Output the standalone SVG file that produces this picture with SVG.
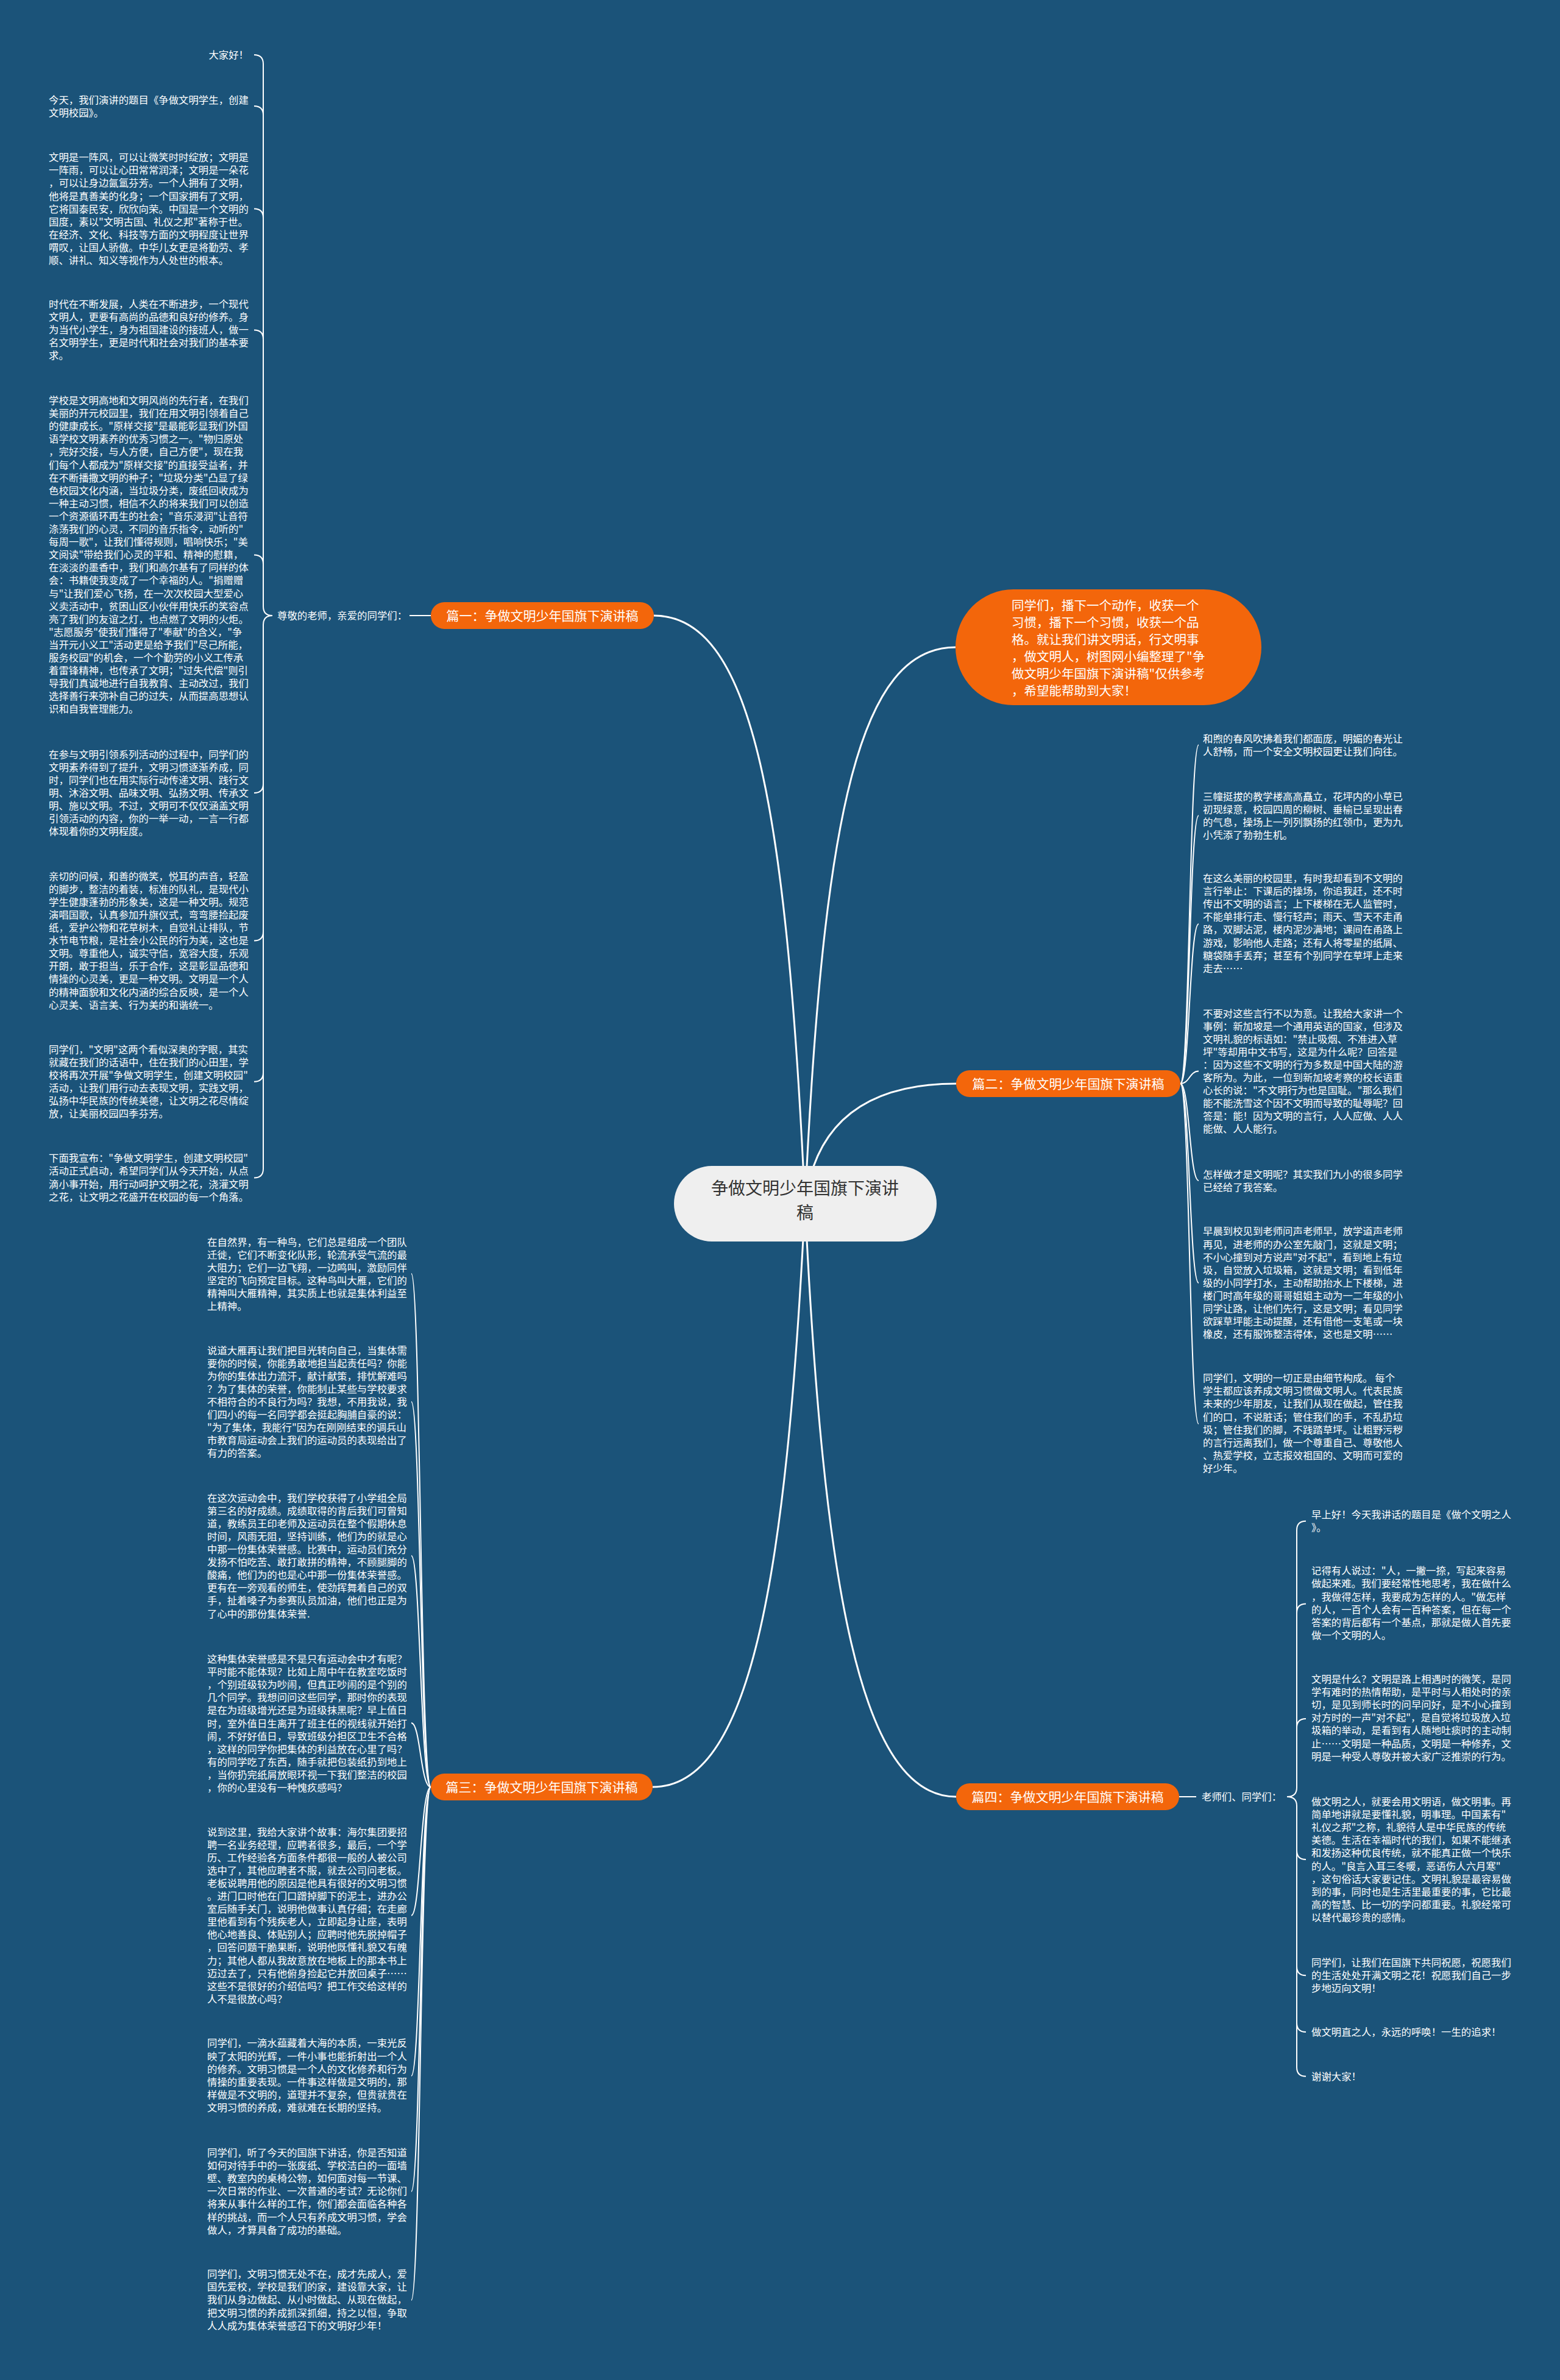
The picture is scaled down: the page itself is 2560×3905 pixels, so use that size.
<svg xmlns="http://www.w3.org/2000/svg" width="2560" height="3905" viewBox="0 0 2560 3905">
<style>
.t{font-family:"Noto Sans CJK SC","Liberation Sans",sans-serif;font-size:16.4px;fill:#ffffff}
.c{fill:none;stroke:#ffffff;stroke-width:2}
.cr{fill:none;stroke:#ffffff;stroke-width:3}
.pill{fill:#f3660b}
.pt{font-family:"Noto Sans CJK SC","Liberation Sans",sans-serif;font-size:21px;fill:#ffffff;text-anchor:middle}
</style>
<rect x="0" y="0" width="2560" height="3905" fill="#1b5379"/>
<g id="connectors">
<path class="cr" d="M1321,1975 C1290,1300 1230,1010 1073,1010"/>
<path class="cr" d="M1321,1975 C1351,1330 1411,1062 1568,1062"/>
<path class="cr" d="M1321,1975 C1340,1820 1450,1778 1569,1778"/>
<path class="cr" d="M1321,1975 C1290,2600 1230,2932 1071,2932"/>
<path class="cr" d="M1321,1975 C1351,2600 1411,2948 1569,2948"/>
<path class="c" d="M707,1010 L672,1010"/>
<path class="c" d="M1935,2948 L1963,2948"/>
<path class="c" d="M447,1010 Q432,1010 432,995 L432,105 Q432,90 417,90"/>
<path class="c" d="M432,189 Q432,174 417,174"/>
<path class="c" d="M432,357.5 Q432,342.5 417,342.5"/>
<path class="c" d="M432,556.5 Q432,541.5 417,541.5"/>
<path class="c" d="M432,925.5 Q432,910.5 417,910.5"/>
<path class="c" d="M447,1010 Q432,1010 432,1025 L432,1917.4 Q432,1932.4 417,1932.4"/>
<path class="c" d="M432,1286 Q432,1301 417,1301"/>
<path class="c" d="M432,1528.4 Q432,1543.4 417,1543.4"/>
<path class="c" d="M432,1759.7 Q432,1774.7 417,1774.7"/>
<path class="c" d="M2112,2948 Q2128,2948 2128,2933 L2128,2510.8 Q2128,2495.8 2143,2495.8"/>
<path class="c" d="M2128,2646.5 Q2128,2631.5 2143,2631.5"/>
<path class="c" d="M2128,2835 Q2128,2820 2143,2820"/>
<path class="c" d="M2112,2948 Q2128,2948 2128,2963 L2128,3391.7 Q2128,3406.7 2143,3406.7"/>
<path class="c" d="M2128,3036 Q2128,3051 2143,3051"/>
<path class="c" d="M2128,3226.3 Q2128,3241.3 2143,3241.3"/>
<path class="c" d="M2128,3319 Q2128,3334 2143,3334"/>
<path class="c" d="M1937,1778 C1952,1778 1952,1222.2 1967,1222.2"/>
<path class="c" d="M1937,1778 C1952,1778 1952,1338.2 1967,1338.2"/>
<path class="c" d="M1937,1778 C1952,1778 1952,1516 1967,1516"/>
<path class="c" d="M1937,1778 C1952,1778 1952,1757.5 1967,1757.5"/>
<path class="c" d="M1937,1778 C1952,1778 1952,1937 1967,1937"/>
<path class="c" d="M1937,1778 C1952,1778 1952,2105 1967,2105"/>
<path class="c" d="M1937,1778 C1952,1778 1952,2336.3 1967,2336.3"/>
<path class="c" d="M707,2932 C690,2932 690,2089.7 675,2089.7"/>
<path class="c" d="M707,2932 C690,2932 690,2300 675,2300"/>
<path class="c" d="M707,2932 C690,2932 690,2552.5 675,2552.5"/>
<path class="c" d="M707,2932 C690,2932 690,2827 675,2827"/>
<path class="c" d="M707,2932 C690,2932 690,3142.7 675,3142.7"/>
<path class="c" d="M707,2932 C690,2932 690,3405.9 675,3405.9"/>
<path class="c" d="M707,2932 C690,2932 690,3595.7 675,3595.7"/>
<path class="c" d="M707,2932 C690,2932 690,3774 675,3774"/>
</g>
<g id="root">
<rect x="1106" y="1913" width="431" height="124" rx="62" fill="#efefef"/>
<text x="1321" y="1960" text-anchor="middle" font-family="Noto Sans CJK SC, Liberation Sans, sans-serif" font-size="28" fill="#333333"><tspan x="1321" y="1960">争做文明少年国旗下演讲</tspan><tspan x="1321" y="2000">稿</tspan></text>
</g>
<g id="intro">
<rect x="1568" y="967" width="502" height="190" rx="95" class="pill"/>
<text font-family="Noto Sans CJK SC, Liberation Sans, sans-serif" font-size="20.5" fill="#ffffff"><tspan x="1660" y="1001">同学们，播下一个动作，收获一个</tspan><tspan x="1660" y="1029">习惯，播下一个习惯，收获一个品</tspan><tspan x="1660" y="1057">格。就让我们讲文明话，行文明事</tspan><tspan x="1660" y="1085">，做文明人，树图网小编整理了"争</tspan><tspan x="1660" y="1113">做文明少年国旗下演讲稿"仅供参考</tspan><tspan x="1660" y="1141">，希望能帮助到大家！</tspan></text>
</g>
<g id="b1">
<rect x="707" y="988" width="366" height="44" rx="22" class="pill"/>
<text class="pt" x="890" y="1017.5">篇一：争做文明少年国旗下演讲稿</text>
</g>
<g id="b2">
<rect x="1569" y="1756" width="368" height="44" rx="22" class="pill"/>
<text class="pt" x="1753" y="1785.5">篇二：争做文明少年国旗下演讲稿</text>
</g>
<g id="b3">
<rect x="707" y="2910" width="364" height="44" rx="22" class="pill"/>
<text class="pt" x="889" y="2939.5">篇三：争做文明少年国旗下演讲稿</text>
</g>
<g id="b4">
<rect x="1569" y="2926" width="366" height="44" rx="22" class="pill"/>
<text class="pt" x="1752" y="2955.5">篇四：争做文明少年国旗下演讲稿</text>
</g>
<g id="b1-greet"><text class="t" x="455" y="1016">尊敬的老师，亲爱的同学们：</text></g>
<g id="b4-greet"><text class="t" x="1972" y="2954">老师们、同学们：</text></g>
<g id="b1-a"><text class="t" x="408" y="96" text-anchor="end">大家好！</text></g>
<g id="b1-b"><text class="t"><tspan x="80" y="169.6">今天，我们演讲的题目《争做文明学生，创建</tspan><tspan x="80" y="190.7">文明校园》。</tspan></text></g>
<g id="b1-c"><text class="t"><tspan x="80" y="264.2">文明是一阵风，可以让微笑时时绽放；文明是</tspan><tspan x="80" y="285.3">一阵雨，可以让心田常常润泽；文明是一朵花</tspan><tspan x="80" y="306.4">，可以让身边氤氲芬芳。一个人拥有了文明，</tspan><tspan x="80" y="327.5">他将是真善美的化身；一个国家拥有了文明，</tspan><tspan x="80" y="348.6">它将国泰民安，欣欣向荣。中国是一个文明的</tspan><tspan x="80" y="369.7">国度，素以"文明古国、礼仪之邦"著称于世。</tspan><tspan x="80" y="390.8">在经济、文化、科技等方面的文明程度让世界</tspan><tspan x="80" y="411.9">喟叹，让国人骄傲。中华儿女更是将勤劳、孝</tspan><tspan x="80" y="433">顺、讲礼、知义等视作为人处世的根本。</tspan></text></g>
<g id="b1-d"><text class="t"><tspan x="80" y="504.6">时代在不断发展，人类在不断进步，一个现代</tspan><tspan x="80" y="525.7">文明人，更要有高尚的品德和良好的修养。身</tspan><tspan x="80" y="546.8">为当代小学生，身为祖国建设的接班人，做一</tspan><tspan x="80" y="567.9">名文明学生，更是时代和社会对我们的基本要</tspan><tspan x="80" y="589">求。</tspan></text></g>
<g id="b1-e"><text class="t"><tspan x="80" y="663">学校是文明高地和文明风尚的先行者，在我们</tspan><tspan x="80" y="684.1">美丽的开元校园里，我们在用文明引领着自己</tspan><tspan x="80" y="705.2">的健康成长。"原样交接"是最能彰显我们外国</tspan><tspan x="80" y="726.3">语学校文明素养的优秀习惯之一。"物归原处</tspan><tspan x="80" y="747.4">，完好交接，与人方便，自己方便"，现在我</tspan><tspan x="80" y="768.5">们每个人都成为"原样交接"的直接受益者，并</tspan><tspan x="80" y="789.6">在不断播撒文明的种子；"垃圾分类"凸显了绿</tspan><tspan x="80" y="810.7">色校园文化内涵，当垃圾分类，废纸回收成为</tspan><tspan x="80" y="831.8">一种主动习惯，相信不久的将来我们可以创造</tspan><tspan x="80" y="852.9">一个资源循环再生的社会；"音乐浸润"让音符</tspan><tspan x="80" y="874">涤荡我们的心灵，不同的音乐指令，动听的"</tspan><tspan x="80" y="895.1">每周一歌"，让我们懂得规则，唱响快乐；"美</tspan><tspan x="80" y="916.2">文阅读"带给我们心灵的平和、精神的慰籍，</tspan><tspan x="80" y="937.3">在淡淡的墨香中，我们和高尔基有了同样的体</tspan><tspan x="80" y="958.4">会：书籍使我变成了一个幸福的人。"捐赠赠</tspan><tspan x="80" y="979.5">与"让我们爱心飞扬，在一次次校园大型爱心</tspan><tspan x="80" y="1000.6">义卖活动中，贫困山区小伙伴用快乐的笑容点</tspan><tspan x="80" y="1021.7">亮了我们的友谊之灯，也点燃了文明的火炬。</tspan><tspan x="80" y="1042.8">"志愿服务"使我们懂得了"奉献"的含义，"争</tspan><tspan x="80" y="1063.9">当开元小义工"活动更是给予我们"尽己所能，</tspan><tspan x="80" y="1085">服务校园"的机会，一个个勤劳的小义工传承</tspan><tspan x="80" y="1106.1">着雷锋精神，也传承了文明；"过失代偿"则引</tspan><tspan x="80" y="1127.2">导我们真诚地进行自我教育、主动改过，我们</tspan><tspan x="80" y="1148.3">选择善行来弥补自己的过失，从而提高思想认</tspan><tspan x="80" y="1169.4">识和自我管理能力。</tspan></text></g>
<g id="b1-f"><text class="t"><tspan x="80" y="1243.7">在参与文明引领系列活动的过程中，同学们的</tspan><tspan x="80" y="1264.8">文明素养得到了提升，文明习惯逐渐养成，同</tspan><tspan x="80" y="1285.9">时，同学们也在用实际行动传递文明、践行文</tspan><tspan x="80" y="1307">明、沐浴文明、品味文明、弘扬文明、传承文</tspan><tspan x="80" y="1328.1">明、施以文明。不过，文明可不仅仅涵盖文明</tspan><tspan x="80" y="1349.2">引领活动的内容，你的一举一动，一言一行都</tspan><tspan x="80" y="1370.3">体现着你的文明程度。</tspan></text></g>
<g id="b1-g"><text class="t"><tspan x="80" y="1443.6">亲切的问候，和善的微笑，悦耳的声音，轻盈</tspan><tspan x="80" y="1464.7">的脚步，整洁的着装，标准的队礼，是现代小</tspan><tspan x="80" y="1485.8">学生健康蓬勃的形象美，这是一种文明。规范</tspan><tspan x="80" y="1506.9">演唱国歌，认真参加升旗仪式，弯弯腰捡起废</tspan><tspan x="80" y="1528">纸，爱护公物和花草树木，自觉礼让排队，节</tspan><tspan x="80" y="1549.1">水节电节粮，是社会小公民的行为美，这也是</tspan><tspan x="80" y="1570.2">文明。尊重他人，诚实守信，宽容大度，乐观</tspan><tspan x="80" y="1591.3">开朗，敢于担当，乐于合作，这是彰显品德和</tspan><tspan x="80" y="1612.4">情操的心灵美，更是一种文明。文明是一个人</tspan><tspan x="80" y="1633.5">的精神面貌和文化内涵的综合反映，是一个人</tspan><tspan x="80" y="1654.6">心灵美、语言美、行为美的和谐统一。</tspan></text></g>
<g id="b1-h"><text class="t"><tspan x="80" y="1727.6">同学们，"文明"这两个看似深奥的字眼，其实</tspan><tspan x="80" y="1748.7">就藏在我们的话语中，住在我们的心田里，学</tspan><tspan x="80" y="1769.8">校将再次开展"争做文明学生，创建文明校园"</tspan><tspan x="80" y="1790.9">活动，让我们用行动去表现文明，实践文明，</tspan><tspan x="80" y="1812">弘扬中华民族的传统美德，让文明之花尽情绽</tspan><tspan x="80" y="1833.1">放，让美丽校园四季芬芳。</tspan></text></g>
<g id="b1-i"><text class="t"><tspan x="80" y="1906.3">下面我宣布："争做文明学生，创建文明校园"</tspan><tspan x="80" y="1927.4">活动正式启动，希望同学们从今天开始，从点</tspan><tspan x="80" y="1948.5">滴小事开始，用行动呵护文明之花，浇灌文明</tspan><tspan x="80" y="1969.6">之花，让文明之花盛开在校园的每一个角落。</tspan></text></g>
<g id="b2-1"><text class="t"><tspan x="1974" y="1217.7">和煦的春风吹拂着我们都面庞，明媚的春光让</tspan><tspan x="1974" y="1238.8">人舒畅，而一个安全文明校园更让我们向往。</tspan></text></g>
<g id="b2-2"><text class="t"><tspan x="1974" y="1312.6">三幢挺拔的教学楼高高矗立，花坪内的小草已</tspan><tspan x="1974" y="1333.7">初现绿意，校园四周的柳树、垂榆已呈现出春</tspan><tspan x="1974" y="1354.8">的气息，操场上一列列飘扬的红领巾，更为九</tspan><tspan x="1974" y="1375.9">小凭添了勃勃生机。</tspan></text></g>
<g id="b2-3"><text class="t"><tspan x="1974" y="1447">在这么美丽的校园里，有时我却看到不文明的</tspan><tspan x="1974" y="1468.1">言行举止：下课后的操场，你追我赶，还不时</tspan><tspan x="1974" y="1489.2">传出不文明的语言；上下楼梯在无人监管时，</tspan><tspan x="1974" y="1510.3">不能单排行走、慢行轻声；雨天、雪天不走甬</tspan><tspan x="1974" y="1531.4">路，双脚沾泥，楼内泥沙满地；课间在甬路上</tspan><tspan x="1974" y="1552.5">游戏，影响他人走路；还有人将零星的纸屑、</tspan><tspan x="1974" y="1573.6">糖袋随手丢弃；甚至有个别同学在草坪上走来</tspan><tspan x="1974" y="1594.7">走去……</tspan></text></g>
<g id="b2-4"><text class="t"><tspan x="1974" y="1668.5">不要对这些言行不以为意。让我给大家讲一个</tspan><tspan x="1974" y="1689.6">事例：新加坡是一个通用英语的国家，但涉及</tspan><tspan x="1974" y="1710.7">文明礼貌的标语如："禁止吸烟、不准进入草</tspan><tspan x="1974" y="1731.8">坪"等却用中文书写，这是为什么呢？回答是</tspan><tspan x="1974" y="1752.9">：因为这些不文明的行为多数是中国大陆的游</tspan><tspan x="1974" y="1774">客所为。为此，一位到新加坡考察的校长语重</tspan><tspan x="1974" y="1795.1">心长的说："不文明行为也是国耻。"那么我们</tspan><tspan x="1974" y="1816.2">能不能洗雪这个因不文明而导致的耻辱呢？回</tspan><tspan x="1974" y="1837.3">答是：能！因为文明的言行，人人应做、人人</tspan><tspan x="1974" y="1858.4">能做、人人能行。</tspan></text></g>
<g id="b2-5"><text class="t"><tspan x="1974" y="1932.5">怎样做才是文明呢？其实我们九小的很多同学</tspan><tspan x="1974" y="1953.6">已经给了我答案。</tspan></text></g>
<g id="b2-6"><text class="t"><tspan x="1974" y="2026.4">早晨到校见到老师问声老师早，放学道声老师</tspan><tspan x="1974" y="2047.5">再见，进老师的办公室先敲门，这就是文明；</tspan><tspan x="1974" y="2068.6">不小心撞到对方说声"对不起"，看到地上有垃</tspan><tspan x="1974" y="2089.7">圾，自觉放入垃圾箱，这就是文明；看到低年</tspan><tspan x="1974" y="2110.8">级的小同学打水，主动帮助抬水上下楼梯，进</tspan><tspan x="1974" y="2131.9">楼门时高年级的哥哥姐姐主动为一二年级的小</tspan><tspan x="1974" y="2153">同学让路，让他们先行，这是文明；看见同学</tspan><tspan x="1974" y="2174.1">欲踩草坪能主动提醒，还有借他一支笔或一块</tspan><tspan x="1974" y="2195.2">橡皮，还有服饰整洁得体，这也是文明……</tspan></text></g>
<g id="b2-7"><text class="t"><tspan x="1974" y="2267.2">同学们，文明的一切正是由细节构成。 每个</tspan><tspan x="1974" y="2288.3">学生都应该养成文明习惯做文明人。代表民族</tspan><tspan x="1974" y="2309.4">未来的少年朋友，让我们从现在做起，管住我</tspan><tspan x="1974" y="2330.5">们的口，不说脏话；管住我们的手，不乱扔垃</tspan><tspan x="1974" y="2351.6">圾；管住我们的脚，不践踏草坪。让粗野污秽</tspan><tspan x="1974" y="2372.7">的言行远离我们，做一个尊重自己、尊敬他人</tspan><tspan x="1974" y="2393.8">、热爱学校，立志报效祖国的、文明而可爱的</tspan><tspan x="1974" y="2414.9">好少年。</tspan></text></g>
<g id="b3-1"><text class="t"><tspan x="340" y="2043.7">在自然界，有一种鸟，它们总是组成一个团队</tspan><tspan x="340" y="2064.8">迁徙，它们不断变化队形，轮流承受气流的最</tspan><tspan x="340" y="2085.9">大阻力；它们一边飞翔，一边鸣叫，激励同伴</tspan><tspan x="340" y="2107">坚定的飞向预定目标。这种鸟叫大雁，它们的</tspan><tspan x="340" y="2128.1">精神叫大雁精神，其实质上也就是集体利益至</tspan><tspan x="340" y="2149.2">上精神。</tspan></text></g>
<g id="b3-2"><text class="t"><tspan x="340" y="2221.6">说道大雁再让我们把目光转向自己，当集体需</tspan><tspan x="340" y="2242.7">要你的时候，你能勇敢地担当起责任吗？你能</tspan><tspan x="340" y="2263.8">为你的集体出力流汗，献计献策，排忧解难吗</tspan><tspan x="340" y="2284.9">？为了集体的荣誉，你能制止某些与学校要求</tspan><tspan x="340" y="2306">不相符合的不良行为吗？我想，不用我说，我</tspan><tspan x="340" y="2327.1">们四小的每一名同学都会挺起胸脯自豪的说：</tspan><tspan x="340" y="2348.2">"为了集体，我能行"因为在刚刚结束的调兵山</tspan><tspan x="340" y="2369.3">市教育局运动会上我们的运动员的表现给出了</tspan><tspan x="340" y="2390.4">有力的答案。</tspan></text></g>
<g id="b3-3"><text class="t"><tspan x="340" y="2463.6">在这次运动会中，我们学校获得了小学组全局</tspan><tspan x="340" y="2484.7">第三名的好成绩。成绩取得的背后我们可曾知</tspan><tspan x="340" y="2505.8">道，教练员王印老师及运动员在整个假期休息</tspan><tspan x="340" y="2526.9">时间，风雨无阻，坚持训练，他们为的就是心</tspan><tspan x="340" y="2548">中那一份集体荣誉感。比赛中，运动员们充分</tspan><tspan x="340" y="2569.1">发扬不怕吃苦、敢打敢拼的精神，不顾腿脚的</tspan><tspan x="340" y="2590.2">酸痛，他们为的也是心中那一份集体荣誉感。</tspan><tspan x="340" y="2611.3">更有在一旁观看的师生，使劲挥舞着自己的双</tspan><tspan x="340" y="2632.4">手，扯着嗓子为参赛队员加油，他们也正是为</tspan><tspan x="340" y="2653.5">了心中的那份集体荣誉.</tspan></text></g>
<g id="b3-4"><text class="t"><tspan x="340" y="2728">这种集体荣誉感是不是只有运动会中才有呢？</tspan><tspan x="340" y="2749.1">平时能不能体现？比如上周中午在教室吃饭时</tspan><tspan x="340" y="2770.2">，个别班级较为吵闹，但真正吵闹的是个别的</tspan><tspan x="340" y="2791.3">几个同学。我想问问这些同学，那时你的表现</tspan><tspan x="340" y="2812.4">是在为班级增光还是为班级抹黑呢？早上值日</tspan><tspan x="340" y="2833.5">时，室外值日生离开了班主任的视线就开始打</tspan><tspan x="340" y="2854.6">闹，不好好值日，导致班级分担区卫生不合格</tspan><tspan x="340" y="2875.7">，这样的同学你把集体的利益放在心里了吗？</tspan><tspan x="340" y="2896.8">有的同学吃了东西，随手就把包装纸扔到地上</tspan><tspan x="340" y="2917.9">，当你扔完纸屑放眼环视一下我们整洁的校园</tspan><tspan x="340" y="2939">，你的心里没有一种愧疚感吗？</tspan></text></g>
<g id="b3-5"><text class="t"><tspan x="340" y="3011.5">说到这里，我给大家讲个故事：海尔集团要招</tspan><tspan x="340" y="3032.6">聘一名业务经理，应聘者很多，最后，一个学</tspan><tspan x="340" y="3053.7">历、工作经验各方面条件都很一般的人被公司</tspan><tspan x="340" y="3074.8">选中了，其他应聘者不服，就去公司问老板。</tspan><tspan x="340" y="3095.9">老板说聘用他的原因是他具有很好的文明习惯</tspan><tspan x="340" y="3117">。进门口时他在门口蹭掉脚下的泥土，进办公</tspan><tspan x="340" y="3138.1">室后随手关门，说明他做事认真仔细；在走廊</tspan><tspan x="340" y="3159.2">里他看到有个残疾老人，立即起身让座，表明</tspan><tspan x="340" y="3180.3">他心地善良、体贴别人；应聘时他先脱掉帽子</tspan><tspan x="340" y="3201.4">，回答问题干脆果断，说明他既懂礼貌又有魄</tspan><tspan x="340" y="3222.5">力；其他人都从我故意放在地板上的那本书上</tspan><tspan x="340" y="3243.6">迈过去了，只有他俯身捡起它并放回桌子……</tspan><tspan x="340" y="3264.7">这些不是很好的介绍信吗？把工作交给这样的</tspan><tspan x="340" y="3285.8">人不是很放心吗？</tspan></text></g>
<g id="b3-6"><text class="t"><tspan x="340" y="3358.4">同学们，一滴水蕴藏着大海的本质，一束光反</tspan><tspan x="340" y="3379.5">映了太阳的光辉，一件小事也能折射出一个人</tspan><tspan x="340" y="3400.6">的修养。文明习惯是一个人的文化修养和行为</tspan><tspan x="340" y="3421.7">情操的重要表现。一件事这样做是文明的，那</tspan><tspan x="340" y="3442.8">样做是不文明的，道理并不复杂，但贵就贵在</tspan><tspan x="340" y="3463.9">文明习惯的养成，难就难在长期的坚持。</tspan></text></g>
<g id="b3-7"><text class="t"><tspan x="340" y="3538">同学们，听了今天的国旗下讲话，你是否知道</tspan><tspan x="340" y="3559.1">如何对待手中的一张废纸、学校洁白的一面墙</tspan><tspan x="340" y="3580.2">壁、教室内的桌椅公物，如何面对每一节课、</tspan><tspan x="340" y="3601.3">一次日常的作业、一次普通的考试？无论你们</tspan><tspan x="340" y="3622.4">将来从事什么样的工作，你们都会面临各种各</tspan><tspan x="340" y="3643.5">样的挑战，而一个人只有养成文明习惯，学会</tspan><tspan x="340" y="3664.6">做人，才算具备了成功的基础。</tspan></text></g>
<g id="b3-8"><text class="t"><tspan x="340" y="3737.2">同学们，文明习惯无处不在，成才先成人，爱</tspan><tspan x="340" y="3758.3">国先爱校，学校是我们的家，建设靠大家，让</tspan><tspan x="340" y="3779.4">我们从身边做起、从小时做起、从现在做起，</tspan><tspan x="340" y="3800.5">把文明习惯的养成抓深抓细，持之以恒，争取</tspan><tspan x="340" y="3821.6">人人成为集体荣誉感召下的文明好少年！</tspan></text></g>
<g id="b4-1"><text class="t"><tspan x="2152" y="2491">早上好！今天我讲话的题目是《做个文明之人</tspan><tspan x="2152" y="2512.1">》。</tspan></text></g>
<g id="b4-2"><text class="t"><tspan x="2152" y="2583.3">记得有人说过："人，一撇一捺，写起来容易</tspan><tspan x="2152" y="2604.4">做起来难。我们要经常性地思考，我在做什么</tspan><tspan x="2152" y="2625.5">，我做得怎样，我要成为怎样的人。"做怎样</tspan><tspan x="2152" y="2646.6">的人，一百个人会有一百种答案，但在每一个</tspan><tspan x="2152" y="2667.7">答案的背后都有一个基点，那就是做人首先要</tspan><tspan x="2152" y="2688.8">做一个文明的人。</tspan></text></g>
<g id="b4-3"><text class="t"><tspan x="2152" y="2761">文明是什么？文明是路上相遇时的微笑，是同</tspan><tspan x="2152" y="2782.1">学有难时的热情帮助，是平时与人相处时的亲</tspan><tspan x="2152" y="2803.2">切，是见到师长时的问早问好，是不小心撞到</tspan><tspan x="2152" y="2824.3">对方时的一声"对不起"，是自觉将垃圾放入垃</tspan><tspan x="2152" y="2845.4">圾箱的举动，是看到有人随地吐痰时的主动制</tspan><tspan x="2152" y="2866.5">止……文明是一种品质，文明是一种修养，文</tspan><tspan x="2152" y="2887.6">明是一种受人尊敬并被大家广泛推崇的行为。</tspan></text></g>
<g id="b4-4"><text class="t"><tspan x="2152" y="2962">做文明之人，就要会用文明语，做文明事。再</tspan><tspan x="2152" y="2983.1">简单地讲就是要懂礼貌，明事理。中国素有"</tspan><tspan x="2152" y="3004.2">礼仪之邦"之称，礼貌待人是中华民族的传统</tspan><tspan x="2152" y="3025.3">美德。生活在幸福时代的我们，如果不能继承</tspan><tspan x="2152" y="3046.4">和发扬这种优良传统，就不能真正做一个快乐</tspan><tspan x="2152" y="3067.5">的人。"良言入耳三冬暖，恶语伤人六月寒"</tspan><tspan x="2152" y="3088.6">，这句俗话大家要记住。文明礼貌是最容易做</tspan><tspan x="2152" y="3109.7">到的事，同时也是生活里最重要的事，它比最</tspan><tspan x="2152" y="3130.8">高的智慧、比一切的学问都重要。礼貌经常可</tspan><tspan x="2152" y="3151.9">以替代最珍贵的感情。</tspan></text></g>
<g id="b4-5"><text class="t"><tspan x="2152" y="3226">同学们，让我们在国旗下共同祝愿，祝愿我们</tspan><tspan x="2152" y="3247.1">的生活处处开满文明之花！祝愿我们自己一步</tspan><tspan x="2152" y="3268.2">步地迈向文明！</tspan></text></g>
<g id="b4-6"><text class="t" x="2152" y="3340">做文明直之人，永远的呼唤！一生的追求！</text></g>
<g id="b4-7"><text class="t" x="2152" y="3412.7">谢谢大家！</text></g>
</svg>
